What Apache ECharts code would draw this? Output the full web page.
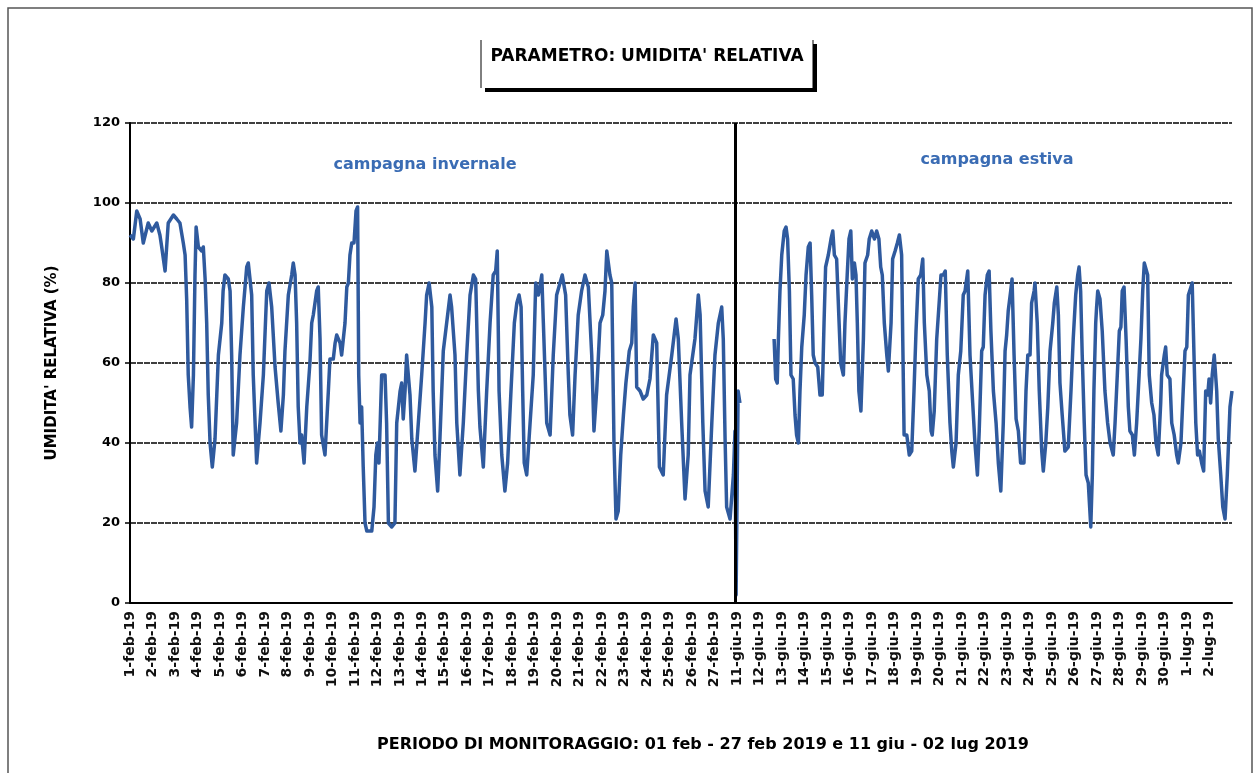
<!DOCTYPE html>
<html>
<head>
<meta charset="utf-8">
<script src="https://cdn.jsdelivr.net/npm/echarts@6/dist/echarts.min.js"></script>
<style>
html,body{margin:0;padding:0;background:#fff;}
#chart{width:1260px;height:773px;}
</style>
</head>
<body>
<div id="chart"></div>
<script>
// Day labels (one per day, tick at start of each day)
const dayLabels = ['1-feb-19','2-feb-19','3-feb-19','4-feb-19','5-feb-19','6-feb-19','7-feb-19','8-feb-19','9-feb-19','10-feb-19',
'11-feb-19','12-feb-19','13-feb-19','14-feb-19','15-feb-19','16-feb-19','17-feb-19','18-feb-19','19-feb-19','20-feb-19',
'21-feb-19','22-feb-19','23-feb-19','24-feb-19','25-feb-19','26-feb-19','27-feb-19',
'11-giu-19','12-giu-19','13-giu-19','14-giu-19','15-giu-19','16-giu-19','17-giu-19','18-giu-19','19-giu-19','20-giu-19',
'21-giu-19','22-giu-19','23-giu-19','24-giu-19','25-giu-19','26-giu-19','27-giu-19','28-giu-19','29-giu-19','30-giu-19',
'1-lug-19','2-lug-19'];

const yTicks = [0, 20, 40, 60, 80, 100, 120];

// [elapsed day on axis, relative humidity %] - winter campaign
const winter = [[0.00,92],[0.15,91],[0.30,98],[0.45,96],[0.59,90],[0.81,95],[0.97,93],[1.19,95],[1.33,92],[1.41,89],[1.56,83],[1.70,95],[1.93,97],[2.08,96],[2.22,95],[2.37,90],[2.45,87],[2.52,76],[2.59,57],[2.67,49],[2.74,44],[2.82,57],[2.89,82],[2.94,94],[3.04,89],[3.19,88],[3.26,89],[3.34,81],[3.41,70],[3.48,52],[3.56,40],[3.66,34],[3.78,41],[3.93,62],[4.08,70],[4.14,78],[4.22,82],[4.37,81],[4.45,78],[4.52,62],[4.59,37],[4.74,45],[4.89,62],[5.04,74],[5.19,84],[5.26,85],[5.41,77],[5.48,57],[5.63,35],[5.78,45],[5.93,57],[6.08,78],[6.18,80],[6.30,74],[6.45,59],[6.59,50],[6.71,43],[6.82,52],[6.89,63],[7.04,77],[7.19,82],[7.26,85],[7.34,82],[7.41,70],[7.48,49],[7.56,40],[7.63,42],[7.74,35],[7.86,49],[8.00,60],[8.08,70],[8.15,72],[8.30,78],[8.37,79],[8.45,66],[8.52,42],[8.67,37],[8.82,53],[8.89,61],[9.04,61],[9.12,65],[9.19,67],[9.34,65],[9.41,62],[9.56,70],[9.64,79],[9.71,80],[9.78,87],[9.86,90],[9.96,90],[10.05,98],[10.12,99],[10.17,57],[10.23,45],[10.30,49],[10.37,34],[10.45,20],[10.53,18],[10.75,18],[10.85,24],[10.93,37],[11.00,40],[11.07,35],[11.19,57],[11.34,57],[11.41,45],[11.49,20],[11.64,19],[11.78,20],[11.86,45],[12.01,53],[12.08,55],[12.15,46],[12.23,53],[12.30,62],[12.45,52],[12.53,41],[12.67,33],[12.82,45],[12.97,57],[13.12,70],[13.19,77],[13.30,80],[13.42,74],[13.48,53],[13.56,37],[13.68,28],[13.78,41],[13.93,63],[14.08,70],[14.23,77],[14.30,74],[14.45,62],[14.53,45],[14.67,32],[14.82,45],[14.97,62],[15.12,77],[15.27,82],[15.37,81],[15.49,53],[15.56,44],[15.71,34],[15.86,53],[16.01,70],[16.15,82],[16.26,83],[16.33,88],[16.41,53],[16.53,37],[16.67,28],[16.79,35],[16.94,53],[17.09,70],[17.20,75],[17.30,77],[17.39,74],[17.46,53],[17.53,35],[17.64,32],[17.79,45],[17.93,57],[18.04,80],[18.16,77],[18.31,82],[18.38,70],[18.53,45],[18.68,42],[18.82,62],[18.97,77],[19.12,80],[19.22,82],[19.37,77],[19.49,57],[19.56,47],[19.68,42],[19.79,57],[19.93,72],[20.08,78],[20.23,82],[20.38,79],[20.53,62],[20.63,43],[20.75,53],[20.90,70],[21.02,72],[21.12,78],[21.20,88],[21.34,82],[21.42,80],[21.52,40],[21.61,21],[21.71,23],[21.82,37],[21.94,47],[22.05,55],[22.20,63],[22.31,65],[22.38,74],[22.46,80],[22.53,54],[22.68,53],[22.82,51],[22.98,52],[23.12,56],[23.27,67],[23.42,65],[23.54,34],[23.71,32],[23.86,52],[24.09,62],[24.28,71],[24.38,66],[24.53,45],[24.68,26],[24.82,37],[24.90,57],[24.98,57],[25.12,66],[25.27,77],[25.35,72],[25.47,45],[25.57,28],[25.71,24],[25.87,45],[26.01,62],[26.16,70],[26.31,74],[26.38,66],[26.46,41],[26.53,24],[26.68,21],[26.83,32],[26.90,43],[26.95,2],[27.04,53],[27.12,50]];

// [elapsed day on axis, relative humidity %] - summer campaign
const summer = [[28.64,66],[28.71,56],[28.78,55],[28.83,66],[28.90,78],[28.98,87],[29.09,93],[29.17,94],[29.24,91],[29.32,78],[29.39,57],[29.49,56],[29.57,47],[29.64,42],[29.72,40],[29.79,53],[29.87,64],[29.98,72],[30.06,82],[30.16,89],[30.24,90],[30.31,77],[30.38,62],[30.46,60],[30.58,59],[30.68,52],[30.78,52],[30.86,70],[30.93,84],[31.05,87],[31.17,91],[31.25,93],[31.32,87],[31.42,86],[31.53,70],[31.60,60],[31.72,57],[31.79,70],[31.89,82],[31.97,91],[32.05,93],[32.12,81],[32.21,85],[32.28,82],[32.34,70],[32.41,53],[32.50,48],[32.61,66],[32.68,85],[32.80,87],[32.87,91],[32.98,93],[33.10,91],[33.20,93],[33.30,91],[33.38,84],[33.45,82],[33.54,70],[33.65,62],[33.72,58],[33.84,70],[33.91,86],[34.02,88],[34.12,90],[34.21,92],[34.31,87],[34.36,66],[34.42,42],[34.54,42],[34.65,37],[34.76,38],[34.86,53],[34.95,68],[35.05,81],[35.16,82],[35.25,86],[35.32,70],[35.43,57],[35.54,53],[35.62,43],[35.67,42],[35.76,48],[35.87,66],[35.99,76],[36.06,82],[36.16,82],[36.25,83],[36.34,62],[36.46,45],[36.54,38],[36.61,34],[36.73,40],[36.83,57],[36.94,63],[37.05,77],[37.13,78],[37.25,83],[37.35,62],[37.47,50],[37.57,40],[37.68,32],[37.76,43],[37.87,63],[37.94,64],[38.02,77],[38.12,82],[38.20,83],[38.28,68],[38.39,53],[38.51,45],[38.61,35],[38.72,28],[38.83,45],[38.91,63],[38.98,67],[39.05,73],[39.16,78],[39.22,81],[39.31,62],[39.40,46],[39.50,43],[39.60,35],[39.75,35],[39.84,53],[39.92,62],[40.02,62],[40.09,75],[40.20,78],[40.24,80],[40.34,70],[40.43,53],[40.54,38],[40.61,33],[40.72,40],[40.81,49],[40.91,63],[41.03,70],[41.10,75],[41.21,79],[41.28,72],[41.35,55],[41.45,47],[41.57,38],[41.72,39],[41.84,53],[41.94,66],[42.05,77],[42.14,82],[42.20,84],[42.27,78],[42.34,62],[42.43,45],[42.51,32],[42.61,30],[42.72,19],[42.79,32],[42.86,53],[42.94,70],[42.98,74],[43.03,78],[43.13,76],[43.23,68],[43.35,53],[43.47,45],[43.58,40],[43.72,37],[43.80,45],[43.90,57],[43.99,68],[44.06,69],[44.12,78],[44.20,79],[44.29,66],[44.39,49],[44.46,43],[44.57,42],[44.66,37],[44.76,45],[44.87,57],[44.95,66],[45.03,78],[45.10,85],[45.16,85],[45.25,82],[45.32,57],[45.43,50],[45.53,47],[45.62,40],[45.72,37],[45.83,50],[45.87,57],[45.99,62],[46.05,64],[46.12,57],[46.24,56],[46.32,45],[46.43,42],[46.54,37],[46.61,35],[46.73,40],[46.83,53],[46.91,63],[46.99,64],[47.06,77],[47.13,77],[47.23,80],[47.31,62],[47.39,45],[47.47,37],[47.55,38],[47.65,35],[47.74,33],[47.83,53],[47.92,52],[47.98,56],[48.05,50],[48.12,57],[48.21,62],[48.32,53],[48.39,41],[48.50,32],[48.59,24],[48.69,21],[48.79,32],[48.91,49],[49.00,53]];

// Position (in axis days) of the separator between the two campaigns
const separatorDay = [26.90];

const FONT = 'DejaVu Sans';
const LINE_COLOR = '#2f5a9e';
const chart = echarts.init(document.getElementById('chart'), null, {renderer: 'canvas'});

const option = {
  animation: false,
  backgroundColor: '#ffffff',
  grid: {left: 130, right: 28, top: 123, bottom: 170, containLabel: false},
  xAxis: {
    type: 'value',
    min: 0, max: dayLabels.length, interval: 1,
    axisLine: {show: true, onZero: false, lineStyle: {color: '#000', width: 2}},
    axisTick: {show: false},
    splitLine: {show: false},
    axisLabel: {
      rotate: 90, margin: 8, fontFamily: FONT, fontWeight: 'bold', fontSize: 14, color: '#111',
      showMaxLabel: false,
      formatter: function (v) { const i = Math.round(v); return dayLabels[i] || ''; }
    }
  },
  yAxis: {
    type: 'value',
    min: yTicks[0], max: yTicks[yTicks.length - 1], interval: 20,
    name: "UMIDITA' RELATIVA (%)",
    nameLocation: 'middle', nameGap: 70,
    nameTextStyle: {fontFamily: FONT, fontWeight: 'bold', fontSize: 15, color: '#000'},
    axisLine: {show: true, lineStyle: {color: '#000', width: 2}},
    axisTick: {show: true, inside: false, length: 5, lineStyle: {color: '#000', width: 1.5}},
    axisLabel: {margin: 10, fontFamily: FONT, fontWeight: 'bold', fontSize: 13, color: '#000'},
    splitLine: {show: true, lineStyle: {color: '#000', width: 1.5, type: [6, 1]}}
  },
  series: [
    {
      name: 'invernale', type: 'line', data: winter, showSymbol: false, smooth: false,
      lineStyle: {color: LINE_COLOR, width: 3.5, join: 'round'}, itemStyle: {color: LINE_COLOR},
      markLine: {
        silent: true, symbol: ['none', 'none'], label: {show: false},
        lineStyle: {color: '#000', width: 3, type: 'solid'},
        data: [[{coord: [separatorDay[0], yTicks[yTicks.length - 1]]}, {coord: [separatorDay[0], yTicks[0]]}]]
      },
      z: 3
    },
    {
      name: 'estiva', type: 'line', data: summer, showSymbol: false, smooth: false,
      lineStyle: {color: LINE_COLOR, width: 3.5, join: 'round'}, itemStyle: {color: LINE_COLOR}, z: 3
    }
  ],
  graphic: [
    {type: 'rect', silent: true, shape: {x: 8, y: 8, width: 1244, height: 800},
     style: {fill: 'none', stroke: '#555', lineWidth: 1.5}},
    // title box with shadow
    {type: 'line', silent: true, shape: {x1: 481, y1: 40, x2: 481, y2: 88}, style: {stroke: '#000', lineWidth: 1}},
    {type: 'line', silent: true, shape: {x1: 813, y1: 40, x2: 813, y2: 88}, style: {stroke: '#000', lineWidth: 1}},
    {type: 'line', silent: true, shape: {x1: 815, y1: 44, x2: 815, y2: 92}, style: {stroke: '#000', lineWidth: 4}},
    {type: 'line', silent: true, shape: {x1: 485, y1: 90, x2: 817, y2: 90}, style: {stroke: '#000', lineWidth: 4}},
    {type: 'text', silent: true, x: 647, y: 57,
     style: {text: "PARAMETRO: UMIDITA' RELATIVA", fontFamily: FONT, fontWeight: 'bold', fontSize: 17, fill: '#000', align: 'center', verticalAlign: 'middle'}},
    {type: 'text', silent: true, x: 425, y: 165,
     style: {text: 'campagna invernale', fontFamily: FONT, fontWeight: 'bold', fontSize: 16, fill: '#3a6cb4', align: 'center', verticalAlign: 'middle'}},
    {type: 'text', silent: true, x: 997, y: 160,
     style: {text: 'campagna estiva', fontFamily: FONT, fontWeight: 'bold', fontSize: 16, fill: '#3a6cb4', align: 'center', verticalAlign: 'middle'}},
    {type: 'text', silent: true, x: 703, y: 745,
     style: {text: 'PERIODO DI MONITORAGGIO: 01 feb - 27 feb 2019 e 11 giu - 02 lug 2019', fontFamily: FONT, fontWeight: 'bold', fontSize: 16, fill: '#000', align: 'center', verticalAlign: 'middle'}}
  ]
};
chart.setOption(option);
</script>
</body>
</html>
